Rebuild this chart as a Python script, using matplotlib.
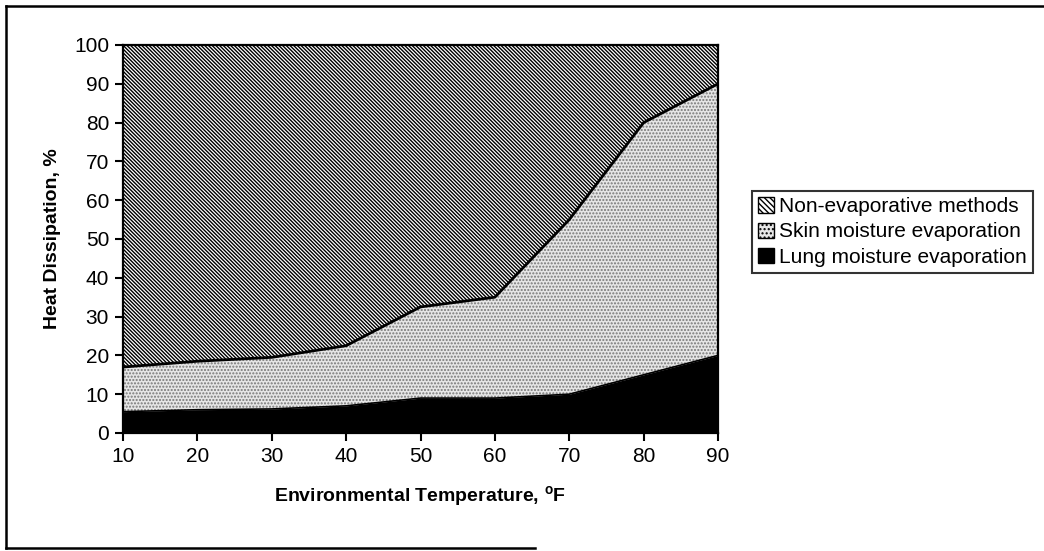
import matplotlib
matplotlib.use("Agg")
import matplotlib.pyplot as plt
from matplotlib.lines import Line2D
from matplotlib.patches import Patch
import numpy as np

plt.rcParams['font.family'] = ['Liberation Sans', 'DejaVu Sans']
plt.rcParams['hatch.linewidth'] = 1.0

temps = [10, 20, 30, 40, 50, 60, 70, 80, 90]
lung = [5.5, 6.0, 6.2, 7.0, 9.0, 9.0, 10.0, 15.0, 20.0]
skin = [11.5, 12.5, 13.3, 15.5, 23.5, 26.0, 45.0, 65.0, 70.0]
nonevap = [100 - l - s for l, s in zip(lung, skin)]

labels = ["Lung moisture evaporation", "Skin moisture evaporation", "Non-evaporative methods"]

fig = plt.figure(figsize=(10.44, 5.51), dpi=100)
ax = fig.add_axes([123/1044, 1 - 433/551, (718-123)/1044, (433-45)/551])

x = np.array(temps)
l = np.array(lung)
s = np.array(skin)
n = np.array(nonevap)
c1 = l
c2 = l + s
c3 = c2 + n

ax.fill_between(x, 0, c1, facecolor='black', edgecolor='black', linewidth=0)
ax.fill_between(x, c1, c2, facecolor='#e6e6e6', edgecolor='#777777', hatch='.....', linewidth=0)
ax.fill_between(x, c2, c3, facecolor='white', edgecolor='black', hatch='\\' * 9, linewidth=0)
ax.plot(x, c2, color='black', lw=2)
ax.plot(x, c1, color='black', lw=1.2)

ax.set_xlim(10, 90)
ax.set_ylim(0, 100)
ax.set_xticks(temps)
ax.set_yticks(range(0, 101, 10))
for sp in ax.spines.values():
    sp.set_linewidth(1.6)
ax.tick_params(axis='both', direction='out', length=6, width=1.5, labelsize=15, pad=4)
ax.set_xlabel("Environmental Temperature, $^{\\mathregular{o}}$F", fontsize=14, fontweight='bold', labelpad=13)
ax.set_ylabel("Heat Dissipation, %", fontsize=14, fontweight='bold', labelpad=9)

handles = [
    Patch(facecolor='white', edgecolor='black', hatch='\\' * 6, label=labels[2]),
    Patch(facecolor='#e6e6e6', edgecolor='black', hatch='....', label=labels[1]),
    Patch(facecolor='black', edgecolor='black', label=labels[0]),
]
leg = fig.legend(handles=handles, loc='upper left', bbox_to_anchor=(752/1044, 1 - 191/551),
                 bbox_transform=fig.transFigure, fontsize=15, frameon=True, fancybox=False,
                 edgecolor='black', handlelength=0.75, handleheight=0.75, handletextpad=0.25,
                 borderpad=0.3, labelspacing=0.3, borderaxespad=0)
leg.get_frame().set_linewidth(1.5)

# outer chart frame
fig.add_artist(Line2D([6/1044, 6/1044], [1 - 548/551, 1 - 6/551], transform=fig.transFigure, color='black', lw=1.8))
fig.add_artist(Line2D([6/1044, 1.0], [1 - 6/551, 1 - 6/551], transform=fig.transFigure, color='black', lw=1.8))
fig.add_artist(Line2D([6/1044, 535/1044], [1 - 548/551, 1 - 548/551], transform=fig.transFigure, color='black', lw=1.8))

fig.savefig("out.png", dpi=100)
